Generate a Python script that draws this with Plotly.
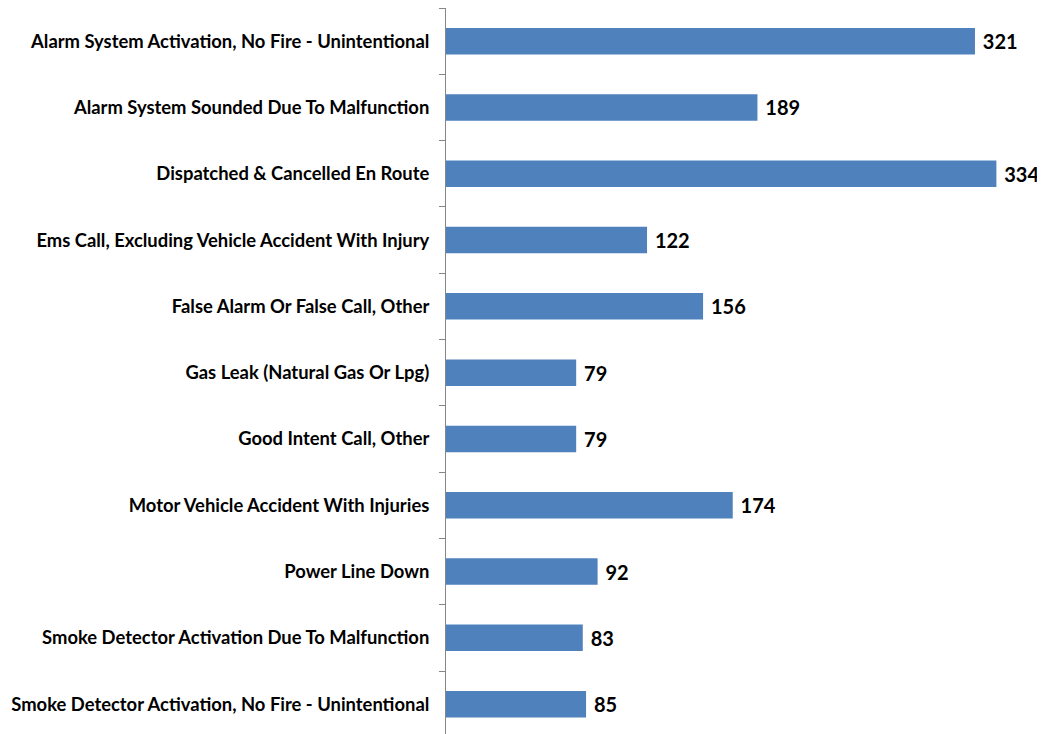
import plotly.graph_objects as go

categories = [
    "Alarm System Activation, No Fire - Unintentional",
    "Alarm System Sounded Due To Malfunction",
    "Dispatched & Cancelled En Route",
    "Ems Call, Excluding Vehicle Accident With Injury",
    "False Alarm Or False Call, Other",
    "Gas Leak (Natural Gas Or Lpg)",
    "Good Intent Call, Other",
    "Motor Vehicle Accident With Injuries",
    "Power Line Down",
    "Smoke Detector Activation Due To Malfunction",
    "Smoke Detector Activation, No Fire - Unintentional",
]
counts = [321, 189, 334, 122, 156, 79, 79, 174, 92, 83, 85]

fig = go.Figure(go.Bar(
    x=counts,
    y=categories,
    orientation="h",
    marker=dict(color="#4F81BD", line=dict(width=0)),
    width=0.4,
    text=counts,
    texttemplate=" %{x}",
    textposition="outside",
    textfont=dict(family="Lato", size=20, color="#000000", weight="bold"),
    cliponaxis=False,
))

fig.update_layout(
    width=1037, height=726,
    margin=dict(l=438, r=0, t=0, b=0),
    paper_bgcolor="white", plot_bgcolor="white",
    showlegend=False,
    font=dict(family="Lato"),
)
fig.update_xaxes(range=[0, 363.5], visible=False, showgrid=False, zeroline=False)
fig.update_yaxes(
    type="category",
    range=[10.45, -0.5],
    showline=True, linecolor="#868686", linewidth=1,
    ticks="outside", ticklen=6, tickcolor="#868686", tickson="boundaries",
    showgrid=False, zeroline=False,
    tickfont=dict(family="Lato", size=18.4, color="#000000", weight="bold"),
    ticklabelstandoff=12,
)

fig.write_html("out.html")
